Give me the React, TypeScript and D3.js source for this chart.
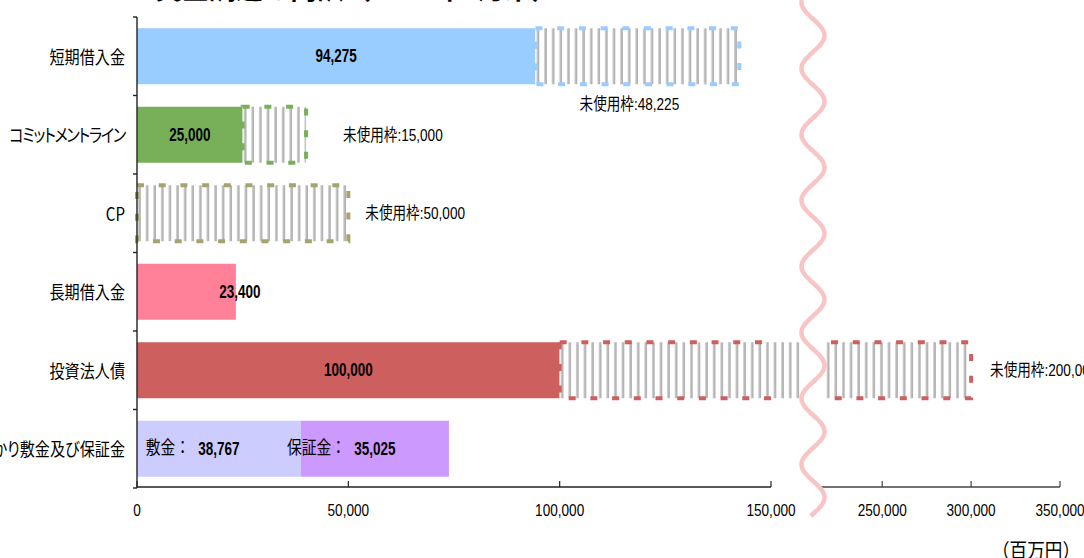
import React from "react";
import * as d3 from "d3";

// ---------- data ----------
const categories = [
  "短期借入金",
  "コミットメントライン",
  "CP",
  "長期借入金",
  "投資法人債",
  "預かり敷金及び保証金",
];
const usedValues = [94275, 25000, 0, 23400, 100000, 38767];
const secondValues = [0, 0, 0, 0, 0, 35025];
const unusedValues = [48225, 15000, 50000, 0, 200000, 0];
const leftTicks = [0, 50000, 100000, 150000];
const rightTicks = [250000, 300000, 350000];
const firstPrefix = ["", "", "", "", "", "敷金："];
const secondPrefix = ["", "", "", "", "", "保証金："];
const unusedLabel = "未使用枠:";
const unitLabel = "（百万円）";
const titleMark = "図表２";
const titleText = "資金調達の内訳（2008年3月末）";

// ---------- style / layout ----------
const W = 1084;
const H = 558;
const barColors = ["#99ccff", "#78b05a", "#a6a46c", "#ff8099", "#cd5f5f", "#ccccff"];
const secondColor = "#cc99ff";
const unusedPlacement = ["below", "right", "right", "", "right", ""];
const PLOT_TOP = 17;
const PLOT_BOTTOM = 488;
const AXIS_X = 137;
const BREAK_X = 813;
const GAP_L = 802;
const GAP_R = 824;
const NUM_FONT = "'Liberation Sans', Arial, 'Noto Sans CJK JP', sans-serif";
const JP_FONT = "'Noto Sans CJK JP', 'Noto Sans', sans-serif";
const SX = 0.8;

const xL = d3.scaleLinear().domain([0, 150000]).range([AXIS_X, 771]);
const xR = d3.scaleLinear().domain([215000, 350000]).range([820, 1060]);
const y = d3
  .scaleBand<string>()
  .domain(categories)
  .range([PLOT_TOP, PLOT_BOTTOM])
  .paddingInner(0.2866)
  .paddingOuter(0.1433);
const fmt = d3.format(",");

const wavePts: [number, number][] = d3.range(0, 517, 1).map((yy) => [
  BREAK_X + 11.5 * Math.sin((2 * Math.PI * (yy - 19)) / 66),
  yy,
]);
const wavePath = d3.line()(wavePts) || "";

type TProps = {
  x: number;
  y: number;
  sx?: number;
  sy?: number;
  anchor?: "start" | "middle" | "end";
  font?: string;
  size: number;
  bold?: boolean;
  fill?: string;
  palt?: boolean;
  spacing?: number;
  children: React.ReactNode;
};

function T({ x, y: yy, sx = SX, sy = 1, anchor = "start", font = NUM_FONT, size, bold, fill = "#000", palt, spacing, children }: TProps) {
  return (
    <text
      transform={`translate(${x},${yy}) scale(${sx},${sy})`}
      textAnchor={anchor}
      dominantBaseline="central"
      fontFamily={font}
      fontSize={size}
      fontWeight={bold ? "bold" : "normal"}
      fill={fill}
      style={{ fontFeatureSettings: palt ? '"palt"' : undefined, letterSpacing: spacing ? `${spacing}px` : undefined }}
    >
      {children}
    </text>
  );
}

export default function App() {
  const step = y.step();
  const bw = y.bandwidth();
  return (
    <svg
      width={W}
      height={H}
      style={{ position: "absolute", left: 0, top: 0, background: "#fff" }}
    >
      <defs>
        {categories.map((c, i) => {
          const x0 = xL(usedValues[i] + secondValues[i]);
          return (
            <pattern
              key={c}
              id={`hatch${i}`}
              patternUnits="userSpaceOnUse"
              x={x0 + 1}
              y={0}
              width={7.6}
              height={10}
            >
              <rect x={0} y={0} width={7.6} height={10} fill="#fff" />
              <rect x={0} y={0} width={1.2} height={10} fill="#cfcfcf" />
              <rect x={1.2} y={0} width={1.5} height={10} fill="#a4a4a4" />
            </pattern>
          );
        })}
      </defs>

      {/* title (mostly cut off above) */}
      <text x={65} y={-3} fontFamily={JP_FONT} fontWeight="bold" fontSize={24} fill="#f4a0a8">
        {titleMark}
      </text>
      <text x={155} y={-1} fontFamily={JP_FONT} fontWeight="bold" fontSize={27} fill="#000">
        {titleText}
      </text>

      {/* bars */}
      {categories.map((c, i) => {
        const top = y(c)!;
        const bot = top + bw;
        const used = usedValues[i];
        const sec = secondValues[i];
        const unused = unusedValues[i];
        const start = used + sec;
        const end = start + unused;
        const col = barColors[i];
        const els: React.ReactNode[] = [];
        if (used > 0)
          els.push(
            <rect key="u" x={xL(0)} y={top} width={xL(used) - xL(0)} height={bw} fill={col} />
          );
        if (sec > 0)
          els.push(
            <rect key="s" x={xL(used)} y={top} width={xL(start) - xL(used)} height={bw} fill={secondColor} />
          );
        if (unused > 0) {
          const x0 = xL(start);
          if (end <= 150000) {
            const x1 = xL(end);
            els.push(
              <rect key="h" x={x0} y={top} width={x1 - x0} height={bw} fill={`url(#hatch${i})`} />,
              <rect
                key="d"
                x={x0}
                y={top}
                width={x1 - x0}
                height={bw}
                fill="none"
                stroke={col}
                strokeWidth={4}
                strokeDasharray="7 14.7"
              />
            );
          } else {
            const x1 = xL(150000);
            const x2 = xR(end);
            const rs = GAP_R + 7;
            els.push(
              <rect key="h1" x={x0} y={top} width={GAP_L - x0} height={bw} fill={`url(#hatch${i})`} />,
              <rect key="h2" x={GAP_R} y={top} width={x2 - GAP_R} height={bw} fill={`url(#hatch${i})`} />,
              <path
                key="d1"
                d={`M${x0},${top}H${x1}M${x1},${bot}H${x0}V${top}`}
                fill="none"
                stroke={col}
                strokeWidth={4}
                strokeDasharray="7 14.7"
              />,
              <path
                key="d2"
                d={`M${rs},${top}H${x2}V${bot}H${rs}`}
                fill="none"
                stroke={col}
                strokeWidth={4}
                strokeDasharray="7 14.7"
              />
            );
          }
        }
        return <g key={c}>{els}</g>;
      })}

      {/* break gap */}
      <rect x={GAP_L} y={PLOT_TOP} width={GAP_R - GAP_L} height={PLOT_BOTTOM - PLOT_TOP} fill="#fff" />

      {/* left axis */}
      <line x1={AXIS_X} x2={AXIS_X} y1={PLOT_TOP} y2={PLOT_BOTTOM} stroke="#222" strokeWidth={1.4} />
      {d3.range(categories.length + 1).map((k) => (
        <line
          key={k}
          x1={AXIS_X - 4}
          x2={AXIS_X}
          y1={PLOT_TOP + k * step}
          y2={PLOT_TOP + k * step}
          stroke="#222"
          strokeWidth={1.4}
        />
      ))}
      {/* bottom axis - left segment */}
      <line x1={xL(0)} x2={xL(150000)} y1={PLOT_BOTTOM - 1} y2={PLOT_BOTTOM - 1} stroke="#222" strokeWidth={1.4} />
      {leftTicks.map((t) => (
        <g key={t}>
          <line x1={xL(t)} x2={xL(t)} y1={PLOT_BOTTOM - 1} y2={PLOT_BOTTOM - 7} stroke="#222" strokeWidth={1.2} />
          <T x={xL(t)} y={510} anchor="middle" size={17}>
            {fmt(t)}
          </T>
        </g>
      ))}
      {/* bottom axis - right segment */}
      <line x1={xR(215000)} x2={xR(350000)} y1={PLOT_BOTTOM - 1} y2={PLOT_BOTTOM - 1} stroke="#444" strokeWidth={1.4} />
      {rightTicks.map((t) => (
        <g key={t}>
          <line x1={xR(t)} x2={xR(t)} y1={PLOT_BOTTOM - 1} y2={PLOT_BOTTOM - 7} stroke="#444" strokeWidth={1.2} />
          <T x={xR(t)} y={510} anchor="middle" size={17}>
            {fmt(t)}
          </T>
        </g>
      ))}

      {/* wave */}
      <path d={wavePath} fill="none" stroke="#f9c4c4" strokeWidth={4.5} />

      {/* category labels */}
      {categories.map((c) => (
        <T
          key={c}
          x={125}
          y={y(c)! + bw / 2}
          anchor="end"
          font={JP_FONT}
          size={18}
          sx={0.84}
          palt={true}
          spacing={/[\u30A0-\u30FF]/.test(c) ? -1.5 : undefined}
        >
          {c}
        </T>
      ))}

      {/* value labels */}
      {categories.map((c, i) => {
        const cy = y(c)! + bw / 2;
        const used = usedValues[i];
        const sec = secondValues[i];
        const unused = unusedValues[i];
        const start = used + sec;
        const els: React.ReactNode[] = [];
        if (used > 0) {
          const cx = unused > 0 || sec > 0 ? (xL(0) + xL(used)) / 2 : xL(used) + 4;
          els.push(
            <T key="v" x={cx} y={cy} anchor="middle" size={18} sx={0.75} bold={true}>
              {fmt(used)}
            </T>
          );
          if (firstPrefix[i])
            els.push(
              <T key="p" x={cx - 29} y={cy - 2} anchor="end" font={JP_FONT} size={18} sx={0.82}>
                {firstPrefix[i]}
              </T>
            );
        }
        if (sec > 0) {
          const cx = (xL(used) + xL(start)) / 2;
          els.push(
            <T key="v2" x={cx} y={cy} anchor="middle" size={18} sx={0.75} bold={true}>
              {fmt(sec)}
            </T>,
            <T key="p2" x={cx - 29} y={cy - 2} anchor="end" font={JP_FONT} size={18} sx={0.82}>
              {secondPrefix[i]}
            </T>
          );
        }
        if (unused > 0) {
          const end = start + unused;
          const xe = end <= 150000 ? xL(end) : xR(end);
          const below = unusedPlacement[i] === "below";
          const lx = below ? (xL(start) + xe) / 2 - 8 : xe + (end <= 150000 ? (unused < 20000 ? 37 : 17) : 19);
          const ly = below ? y(c)! + bw + 20 : cy;
          els.push(
            <T key="un" x={lx} y={ly} anchor={below ? "middle" : "start"} size={17}>
              {unusedLabel}
              {fmt(unused)}
            </T>
          );
        }
        return <g key={c}>{els}</g>;
      })}

      {/* unit */}
      <T x={1080} y={549} anchor="end" font={JP_FONT} size={20} sx={0.88}>
        {unitLabel}
      </T>
    </svg>
  );
}
